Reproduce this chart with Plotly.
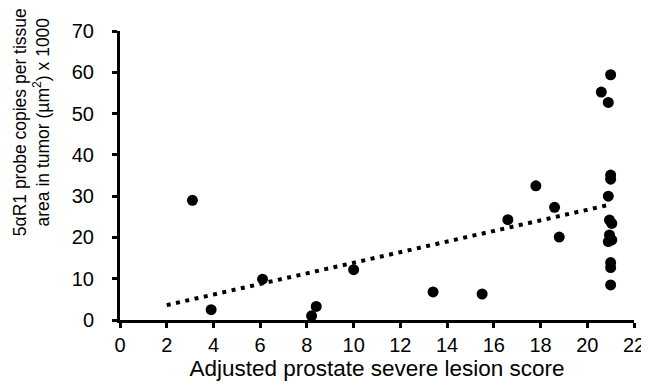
import numpy as np
import plotly.graph_objects as go

# Data
lesion_score = [3.1, 3.9, 6.1, 8.2, 8.4, 10.0, 13.4, 15.5, 16.6, 17.8, 18.6, 18.8,
                20.6, 20.9, 21.0, 21.0, 21.0, 20.9, 20.95, 21.05, 20.95, 21.05, 20.9,
                21.0, 21.0, 21.0]
probe_copies = [29.0, 2.5, 9.9, 1.0, 3.3, 12.2, 6.8, 6.3, 24.3, 32.5, 27.3, 20.1,
                55.2, 52.7, 59.4, 35.1, 34.1, 30.0, 24.2, 23.4, 20.6, 19.4, 19.0,
                13.9, 12.7, 8.5]
trend_span = [2, 21]
x_ticks = list(range(0, 23, 2))
y_ticks = list(range(0, 71, 10))

slope, intercept = np.polyfit(lesion_score, probe_copies, 1)
trend_x = np.array(trend_span, dtype=float)
trend_y = slope * trend_x + intercept

FONT = "Liberation Sans, Arial, Helvetica, sans-serif"

fig = go.Figure()
fig.add_trace(go.Scatter(
    x=trend_x, y=trend_y, mode="lines",
    line=dict(color="black", width=4, dash="4px,5.5px"),
    hoverinfo="skip", showlegend=False))
fig.add_trace(go.Scatter(
    x=lesion_score, y=probe_copies, mode="markers",
    marker=dict(color="black", size=11, line=dict(width=0)),
    showlegend=False, cliponaxis=False))

axis_common = dict(
    showgrid=False, zeroline=False, showline=True, linecolor="black", linewidth=3,
    ticks="outside", ticklen=5, tickwidth=3, tickcolor="black",
    tickfont=dict(family=FONT, size=20, color="black"),
)

fig.update_layout(
    width=649, height=385,
    margin=dict(l=112, r=15, t=17, b=73),
    paper_bgcolor="white", plot_bgcolor="white",
    xaxis=dict(range=[0, 22], tickvals=x_ticks, **axis_common,
               title=dict(text="Adjusted prostate severe lesion score",
                          font=dict(family=FONT, size=22.5, color="black"),
                          standoff=4)),
    yaxis=dict(range=[0, 70], tickvals=y_ticks, ticklabelstandoff=14, **axis_common),
    annotations=[dict(
        text="5αR1 probe copies per tissue<br>area in tumor (µm<sup>2</sup>) x 1000",
        xref="paper", yref="paper", x=-0.172, y=0.683,
        xanchor="center", yanchor="middle", textangle=-90, showarrow=False,
        borderpad=0,
        font=dict(family=FONT, size=17.5, color="black"))],
)

fig.write_html("out.html")
